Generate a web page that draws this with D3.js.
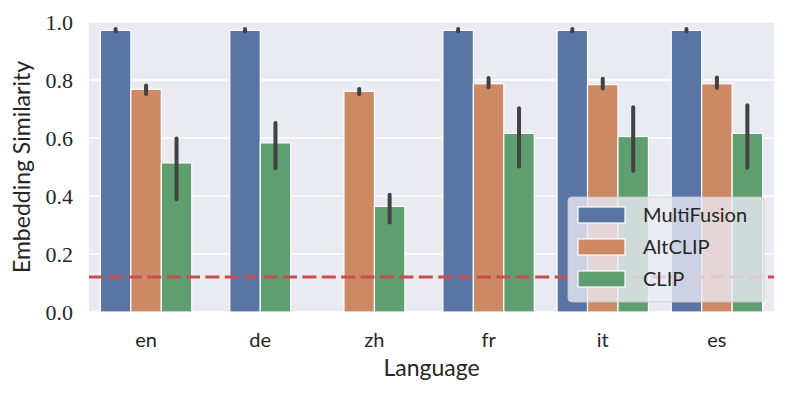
<!DOCTYPE html>
<html>
<head>
<meta charset="utf-8">
<script src="https://cdn.jsdelivr.net/npm/d3@7"></script>
<style>
  body { margin: 0; background: #fff; }
  svg { display: block; }
</style>
</head>
<body>
<script>
// chart values
const languages = ['en', 'de', 'zh', 'fr', 'it', 'es'];
const models = ['MultiFusion', 'AltCLIP', 'CLIP'];

// mean similarity per language (null = no bar)
const multiFusion = [0.971, 0.971, null, 0.971, 0.971, 0.971];
const altClip     = [0.768, null, 0.761, 0.787, 0.784, 0.787];
const clip        = [0.514, 0.583, 0.364, 0.616, 0.605, 0.616];

// error bar ends (low / high)
const multiFusionLo = [0.967, 0.967, null, 0.967, 0.967, 0.967];
const multiFusionHi = [0.976, 0.976, null, 0.976, 0.976, 0.976];
const altClipLo     = [0.752, null, 0.751, 0.775, 0.771, 0.772];
const altClipHi     = [0.781, null, 0.769, 0.807, 0.804, 0.809];
const clipLo        = [0.389, 0.496, 0.309, 0.502, 0.487, 0.497];
const clipHi        = [0.598, 0.652, 0.404, 0.703, 0.706, 0.713];

const baseline = 0.121;
const yTicks = [0.0, 0.2, 0.4, 0.6, 0.8, 1.0];

const colors = {'MultiFusion': '#5875a4', 'AltCLIP': '#cc8963', 'CLIP': '#5f9e6e'};

const series = {
    'MultiFusion': {mean: multiFusion, lo: multiFusionLo, hi: multiFusionHi},
    'AltCLIP': {mean: altClip, lo: altClipLo, hi: altClipHi},
    'CLIP': {mean: clip, lo: clipLo, hi: clipHi}
};

const width = 788, height = 393;
const margin = {left: 89, right: 14, top: 22, bottom: 81};

const svg = d3.select('body').append('svg')
    .attr('width', width)
    .attr('height', height);

const x = d3.scaleBand()
    .domain(languages)
    .range([margin.left, width - margin.right])
    .padding(0);

const y = d3.scaleLinear()
    .domain([0, 1])
    .range([height - margin.bottom, margin.top]);

const serif = "'Liberation Serif', 'DejaVu Serif', serif";
const sans = "Lato, 'Open Sans', sans-serif";

// plot background
svg.append('rect')
    .attr('x', x.range()[0])
    .attr('y', y(1))
    .attr('width', x.range()[1] - x.range()[0])
    .attr('height', y(0) - y(1))
    .attr('fill', '#eaeaf2');

// horizontal grid
svg.append('g')
    .selectAll('line')
    .data(yTicks)
    .join('line')
    .attr('x1', x.range()[0])
    .attr('x2', x.range()[1])
    .attr('y1', d => y(d))
    .attr('y2', d => y(d))
    .attr('stroke', '#fff')
    .attr('stroke-width', 1.6);

// y tick labels
svg.append('g')
    .selectAll('text')
    .data(yTicks)
    .join('text')
    .attr('x', 73)
    .attr('y', d => y(d))
    .attr('dy', '0.35em')
    .attr('text-anchor', 'end')
    .style('font-family', serif)
    .style('font-size', '22px')
    .style('fill', '#262626')
    .text(d => d.toFixed(1));

// bars: only present hues are dodged, centred in the band
const barW = x.bandwidth() * 0.8 / models.length;
let bars = [];
languages.forEach((lang, i) => {
    let present = models.filter(m => series[m].mean[i] !== null);
    present.forEach((m, j) => {
        bars.push({
            lang: lang,
            model: m,
            value: series[m].mean[i],
            lo: series[m].lo[i],
            hi: series[m].hi[i],
            cx: x(lang) + x.bandwidth() / 2 + (j - (present.length - 1) / 2) * barW
        });
    });
});

svg.append('g')
    .selectAll('rect')
    .data(bars)
    .join('rect')
    .attr('x', d => d.cx - barW / 2)
    .attr('y', d => y(d.value))
    .attr('width', barW)
    .attr('height', d => y(0) - y(d.value))
    .attr('fill', d => colors[d.model])
    .attr('stroke', '#fff')
    .attr('stroke-width', 1.2);

// error bars
svg.append('g')
    .selectAll('line')
    .data(bars)
    .join('line')
    .attr('x1', d => d.cx)
    .attr('x2', d => d.cx)
    .attr('y1', d => y(d.lo))
    .attr('y2', d => y(d.hi))
    .attr('stroke', '#424242')
    .attr('stroke-width', 4)
    .attr('stroke-linecap', 'round');

// chance / baseline line
svg.append('line')
    .attr('x1', x.range()[0])
    .attr('x2', x.range()[1])
    .attr('y1', y(baseline))
    .attr('y2', y(baseline))
    .attr('stroke', '#c44e52')
    .attr('stroke-width', 3)
    .attr('stroke-dasharray', '14 5.4');

// x tick labels
svg.append('g')
    .selectAll('text')
    .data(languages)
    .join('text')
    .attr('x', d => x(d) + x.bandwidth() / 2)
    .attr('y', 340)
    .attr('dy', '0.35em')
    .attr('text-anchor', 'middle')
    .style('font-family', sans)
    .style('font-size', '20px')
    .style('fill', '#262626')
    .text(d => d);

// axis titles
svg.append('text')
    .attr('x', (x.range()[0] + x.range()[1]) / 2)
    .attr('y', 368)
    .attr('dy', '0.35em')
    .attr('text-anchor', 'middle')
    .style('font-family', sans)
    .style('font-size', '23px')
    .style('fill', '#262626')
    .text('Language');

svg.append('text')
    .attr('transform', 'translate(22,' + (y(0) + y(1)) / 2 + ') rotate(-90)')
    .attr('dy', '0.35em')
    .attr('text-anchor', 'middle')
    .style('font-family', sans)
    .style('font-size', '23px')
    .style('fill', '#262626')
    .text('Embedding Similarity');

// legend
const legend = svg.append('g').attr('transform', 'translate(568,197)');
legend.append('rect')
    .attr('width', 196)
    .attr('height', 105)
    .attr('rx', 4)
    .attr('fill', '#eaeaf2')
    .attr('fill-opacity', 0.8)
    .attr('stroke', '#cccccc')
    .attr('stroke-opacity', 0.8);

const rows = legend.selectAll('g.row')
    .data(models)
    .join('g')
    .attr('class', 'row')
    .attr('transform', (d, i) => 'translate(0,' + (18 + i * 32) + ')');

rows.append('rect')
    .attr('x', 10)
    .attr('y', -8)
    .attr('width', 47)
    .attr('height', 16)
    .attr('fill', d => colors[d])
    .attr('stroke', '#fff')
    .attr('stroke-width', 1.2);

rows.append('text')
    .attr('x', 75)
    .attr('dy', '0.35em')
    .style('font-family', sans)
    .style('font-size', '20px')
    .style('fill', '#262626')
    .text(d => d);
</script>
</body>
</html>
